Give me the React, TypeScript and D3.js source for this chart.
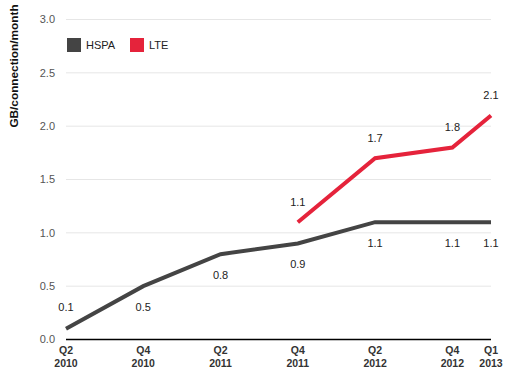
import React from "react";
import * as d3 from "d3";

// quarters counted from Q2 2010
const tickQuarters = [0, 2, 4, 6, 8, 10, 11];
const tickLabels = [
    ["Q2", "2010"],
    ["Q4", "2010"],
    ["Q2", "2011"],
    ["Q4", "2011"],
    ["Q2", "2012"],
    ["Q4", "2012"],
    ["Q1", "2013"]
];
const hspaQuarters = [0, 2, 4, 6, 8, 10, 11];
const hspaValues = [0.1, 0.5, 0.8, 0.9, 1.1, 1.1, 1.1];
const hspaLabelAbove = [true, false, false, false, false, false, false];
const lteQuarters = [6, 8, 10, 11];
const lteValues = [1.1, 1.7, 1.8, 2.1];
const yTicks = [0, 0.5, 1, 1.5, 2, 2.5, 3];

const HSPA_COLOR = "#444444";
const LTE_COLOR = "#e5233b";
const FONT = "'Liberation Sans', Arial, Helvetica, sans-serif";

const dims = { left: 66, right: 491, top: 19.5, bottom: 339.5 };

const App = () => {
    const x = d3.scaleLinear().domain([0, 11]).range([dims.left, dims.right]);
    const y = d3.scaleLinear().domain([0, 3]).range([dims.bottom, dims.top]);

    const line = d3
        .line<[number, number]>()
        .x(d => x(d[0]))
        .y(d => y(d[1]));

    const hspa = hspaQuarters.map((q, i) => [q, hspaValues[i]] as [number, number]);
    const lte = lteQuarters.map((q, i) => [q, lteValues[i]] as [number, number]);

    return (
        <svg
            width={513}
            height={384}
            style={{ position: "absolute", left: 0, top: 0, display: "block" }}
            fontFamily={FONT}
        >
            <rect width={513} height={384} fill="#ffffff" />
            {yTicks.map(t => (
                <g key={t}>
                    {t > 0 && (
                        <line
                            x1={dims.left}
                            x2={dims.right}
                            y1={y(t)}
                            y2={y(t)}
                            stroke="#e6e6e6"
                            strokeWidth={1}
                        />
                    )}
                    <text
                        x={55}
                        y={y(t)}
                        dy="0.35em"
                        textAnchor="end"
                        fontSize={11}
                        fill="#555555"
                    >
                        {t.toFixed(1)}
                    </text>
                </g>
            ))}
            <line
                x1={dims.left}
                x2={dims.right}
                y1={dims.bottom}
                y2={dims.bottom}
                stroke="#000000"
                strokeWidth={1.5}
            />
            {tickQuarters.map((q, i) => (
                <text
                    key={q}
                    x={x(q)}
                    textAnchor="middle"
                    fontSize={10.5}
                    fontWeight="bold"
                    fill="#333333"
                >
                    <tspan x={x(q)} y={354}>
                        {tickLabels[i][0]}
                    </tspan>
                    <tspan x={x(q)} y={367}>
                        {tickLabels[i][1]}
                    </tspan>
                </text>
            ))}
            <text
                transform={`translate(18,66) rotate(-90)`}
                textAnchor="middle"
                fontSize={11.8}
                fontWeight="bold"
                fill="#111111"
            >
                GB/connection/month
            </text>

            <path
                d={line(hspa) || ""}
                fill="none"
                stroke={HSPA_COLOR}
                strokeWidth={4}
                strokeLinejoin="miter"
            />
            <path
                d={line(lte) || ""}
                fill="none"
                stroke={LTE_COLOR}
                strokeWidth={4}
                strokeLinejoin="miter"
            />

            {hspa.map((d, i) => (
                <text
                    key={"h" + i}
                    x={x(d[0])}
                    y={y(d[1]) + (hspaLabelAbove[i] ? -22 : 21)}
                    dy="0.35em"
                    textAnchor="middle"
                    fontSize={11}
                    fill="#222222"
                >
                    {d[1].toFixed(1)}
                </text>
            ))}
            {lte.map((d, i) => (
                <text
                    key={"l" + i}
                    x={x(d[0])}
                    y={y(d[1]) - 20}
                    dy="0.35em"
                    textAnchor="middle"
                    fontSize={11}
                    fill="#222222"
                >
                    {d[1].toFixed(1)}
                </text>
            ))}

            <g>
                <rect x={67} y={38} width={14} height={14} fill={HSPA_COLOR} />
                <text x={86} y={45} dy="0.35em" fontSize={11} fill="#222222">
                    HSPA
                </text>
                <rect x={130} y={38} width={14} height={14} fill={LTE_COLOR} />
                <text x={149} y={45} dy="0.35em" fontSize={11} fill="#222222">
                    LTE
                </text>
            </g>
        </svg>
    );
};

export default App;
